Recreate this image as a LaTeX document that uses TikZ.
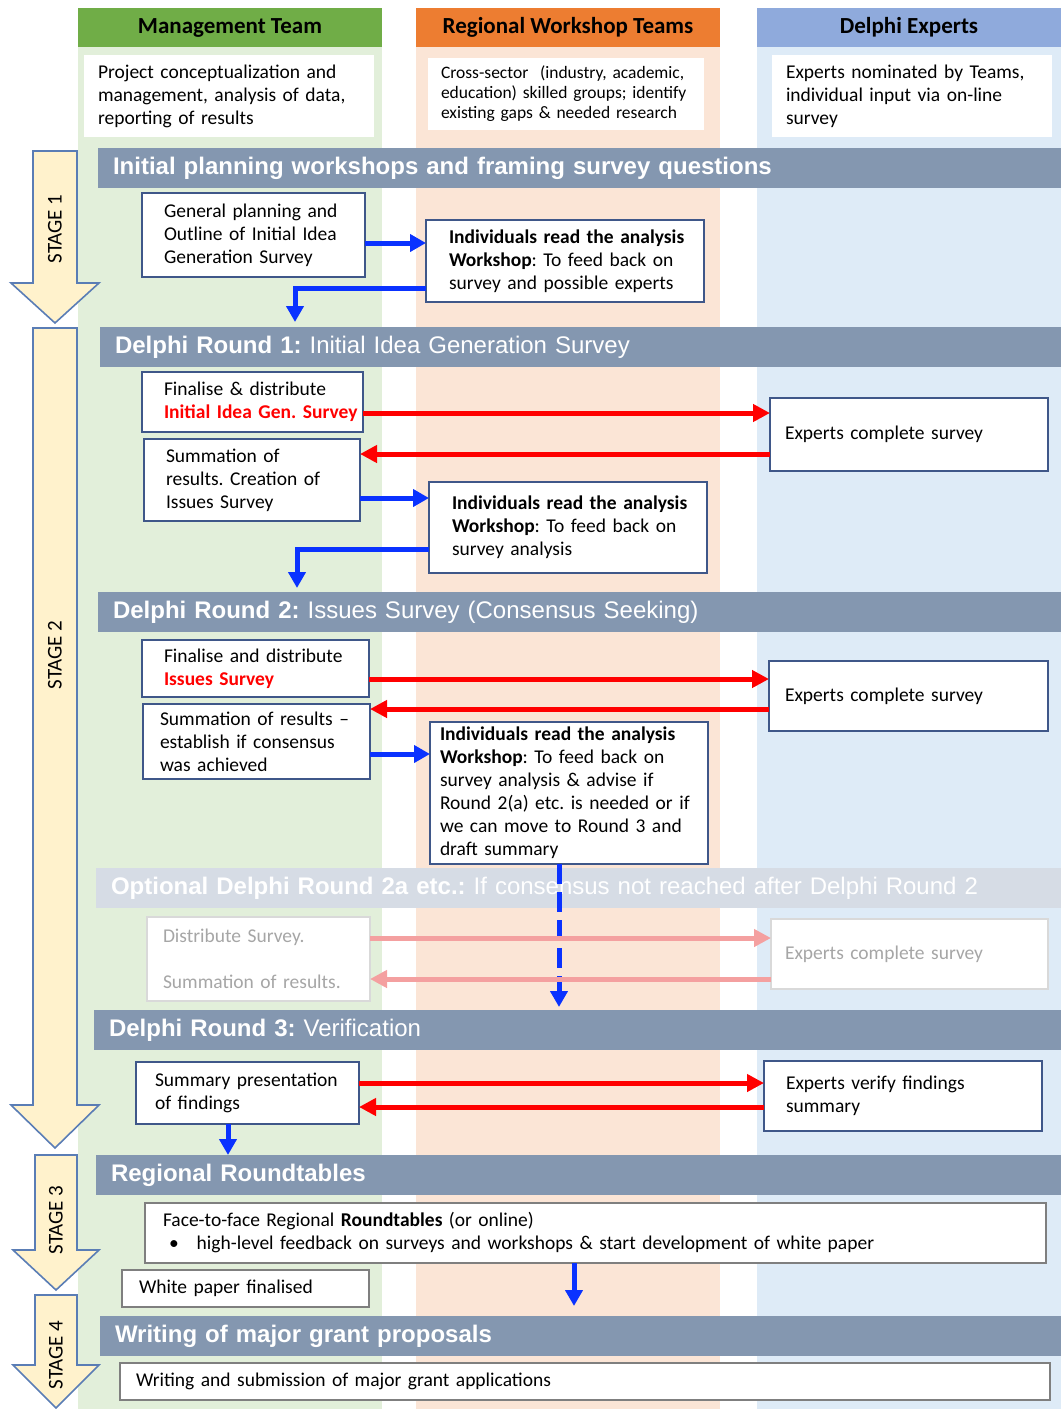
\documentclass[tikz,border=0pt]{standalone}
\usepackage{fontspec}
\setmainfont{Carlito}
\newfontfamily\barfont{Liberation Sans}
\usetikzlibrary{arrows.meta}
\frenchspacing

\definecolor{mgdark}{HTML}{70AD47}
\definecolor{mglight}{HTML}{E2EFDA}
\definecolor{wsdark}{HTML}{ED7D31}
\definecolor{wslight}{HTML}{FBE5D6}
\definecolor{exdark}{HTML}{8FAADC}
\definecolor{exlight}{HTML}{DEEBF7}
\definecolor{barcol}{HTML}{8497B0}
\definecolor{barfaint}{HTML}{D6DCE5}
\definecolor{boxline}{HTML}{3F5789}
\definecolor{stagefill}{HTML}{FFF2CC}
\definecolor{stageline}{HTML}{5A7DB5}
\definecolor{flowred}{HTML}{FF0000}
\definecolor{flowpink}{HTML}{F4A0A0}
\definecolor{flowblue}{HTML}{0A32FF}
\definecolor{faintline}{HTML}{D9D9D9}
\definecolor{fainttext}{HTML}{A6A6A6}
\definecolor{greyline}{HTML}{7F7F7F}

\newcommand{\boxfont}{\fontsize{19.5}{23}\selectfont}
\newcommand{\barsize}{\barfont\fontsize{24}{28}\selectfont}

\begin{document}
\begin{tikzpicture}[x=1pt, y=-1pt,
    head/.style={anchor=north west, outer sep=0pt, inner sep=0pt,
      minimum width=304pt, minimum height=39pt,
      font=\fontsize{23}{27}\selectfont\bfseries},
    box/.style={draw=boxline, line width=1.6pt, fill=white, anchor=north west,
      outer sep=0pt, inner sep=0pt, align=left, font=\boxfont},
    desc/.style={box, draw=none},
    lpad/.style={execute at begin node={\leftskip=#1pt\rightskip=-40pt plus 1fil\relax}},
    bar/.style={fill=barcol, anchor=north west, outer sep=0pt, inner sep=0pt,
      minimum height=40pt, align=left, text=white, font=\barsize, lpad=15},
    stagearrow/.style={fill=stagefill, draw=stageline, line width=1.6pt},
    stagetext/.style={rotate=90, font=\fontsize{21}{25}\selectfont},
    redflow/.style={draw=flowred, line width=5pt, -{Triangle[length=17pt,width=17pt]}},
    pinkflow/.style={redflow, draw=flowpink},
    blueflow/.style={draw=flowblue, line width=5pt, -{Triangle[length=16pt,width=17pt]}},
  ]
  \useasboundingbox (0,0) rectangle (1061,1409);

  % columns
  \fill[mglight] (78,47) rectangle (382,1409);
  \fill[wslight] (416,47) rectangle (720,1409);
  \fill[exlight] (757,47) rectangle (1061,1409);
  \node[head, fill=mgdark] (hm) at (78,8) {Management Team};
  \node[head, fill=wsdark] (hr) at (416,8) {Regional Workshop Teams};
  \node[head, fill=exdark] (hd) at (757,8) {Delphi Experts};
  \node[desc, text width=290pt, minimum height=82pt, lpad=14] (dm) at (84,55)
    {Project conceptualization and\\management, analysis of data,\\reporting of results};
  \node[desc, text width=276pt, minimum height=72pt, lpad=13,
    font=\fontsize{17.5}{20}\selectfont] (dr) at (428,58)
    {Cross-sector\ \ (industry, academic,\\education) skilled groups; identify\\existing gaps \& needed research};
  \node[desc, text width=280pt, minimum height=82pt, lpad=14] (dd) at (772,55)
    {Experts nominated by Teams,\\individual input via on-line\\survey};

  % stages
  \draw[stagearrow] (33,151) -- (77,151) -- (77,283) -- (99,283) -- (55,323)
    -- (11,283) -- (33,283) -- cycle;
  \draw[stagearrow] (33,328) -- (77,328) -- (77,1105) -- (99,1105) -- (55,1148)
    -- (11,1105) -- (33,1105) -- cycle;
  \draw[stagearrow] (35,1155) -- (77,1155) -- (77,1250) -- (99,1250) -- (56,1290)
    -- (13,1250) -- (35,1250) -- cycle;
  \draw[stagearrow] (35,1295) -- (77,1295) -- (77,1365) -- (99,1365) -- (56,1408)
    -- (13,1365) -- (35,1365) -- cycle;
  \node[stagetext] (s1) at (55,229) {STAGE 1};
  \node[stagetext] (s2) at (55,655) {STAGE 2};
  \node[stagetext] (s3) at (56,1220) {STAGE 3};
  \node[stagetext] (s4) at (56,1355) {STAGE 4};

  % bars
  \node[bar, text width=963pt] (b1) at (98,148)
    {\textbf{Initial planning workshops and framing survey questions}};
  \node[bar, text width=961pt] (b2) at (100,327)
    {\textbf{Delphi Round 1:} Initial Idea Generation Survey};
  \node[bar, text width=963pt] (b3) at (98,592)
    {\textbf{Delphi Round 2:} Issues Survey (Consensus Seeking)};
  \node[bar, fill=barfaint, text width=965pt] (b4) at (96,868)
    {\textbf{Optional Delphi Round 2a etc.:} If consensus not reached after Delphi Round 2};
  \node[bar, text width=967pt] (b5) at (94,1010)
    {\textbf{Delphi Round 3:} Verification};
  \node[bar, text width=965pt] (b6) at (96,1155)
    {\textbf{Regional Roundtables}};
  \node[bar, text width=961pt] (b7) at (100,1316)
    {\textbf{Writing of major grant proposals}};

  % boxes
  \node[box, text width=223pt, minimum height=84pt, lpad=22] (gp) at (142,193)
    {General planning and\\Outline of Initial Idea\\Generation Survey};
  \node[box, text width=278pt, minimum height=82pt, lpad=23] (ws1) at (426,220)
    {\textbf{Individuals read the analysis}\\\textbf{Workshop}: To feed back on\\survey and possible experts};
  \node[box, text width=221pt, minimum height=60pt, lpad=22] (fd1) at (142,372)
    {Finalise \& distribute\\\textcolor{flowred}{\textbf{Initial Idea Gen. Survey}}};
  \node[box, text width=278pt, minimum height=73pt, lpad=15] (ex1) at (770,398)
    {Experts complete survey};
  \node[box, text width=216pt, minimum height=82pt, lpad=22] (sum1) at (144,439)
    {Summation of\\results. Creation of\\Issues Survey};
  \node[box, text width=278pt, minimum height=91pt, lpad=23] (ws2) at (429,482)
    {\textbf{Individuals read the analysis}\\\textbf{Workshop}: To feed back on\\survey analysis};
  \node[box, text width=227pt, minimum height=57pt, lpad=22] (fd2) at (142,640)
    {Finalise and distribute\\\textcolor{flowred}{\textbf{Issues Survey}}};
  \node[box, text width=279pt, minimum height=70pt, lpad=16] (ex2) at (769,661)
    {Experts complete survey};
  \node[box, text width=227pt, minimum height=75pt, lpad=17] (sum2) at (143,704)
    {Summation of results --\\establish if consensus\\was achieved};
  \node[box, text width=278pt, minimum height=142pt, lpad=10] (ws3) at (430,722)
    {\textbf{Individuals read the analysis}\\\textbf{Workshop}: To feed back on\\survey analysis \& advise if\\Round 2(a) etc. is needed or if\\we can move to Round 3 and\\draft summary};
  \node[box, draw=faintline, text=fainttext, text width=223pt, minimum height=84pt, lpad=16] (opt) at (147,917)
    {Distribute Survey.\\[23pt]Summation of results.};
  \node[box, draw=faintline, text=fainttext, text width=277pt, minimum height=70pt, lpad=14] (exo) at (771,919)
    {Experts complete survey};
  \node[box, text width=223pt, minimum height=62pt, lpad=19] (sp) at (136,1062)
    {Summary presentation\\of findings};
  \node[box, text width=278pt, minimum height=70pt, lpad=22] (ev) at (764,1061)
    {Experts verify findings\\summary};
  \node[box, draw=greyline, line width=1.2pt, text width=901pt, minimum height=60pt, lpad=18] (rt) at (145,1203)
    {Face-to-face Regional \textbf{Roundtables} (or online)\\\hspace*{6pt}\textbullet\hspace{18pt}high-level feedback on surveys and workshops \& start development of white paper};
  \node[box, draw=greyline, line width=1.2pt, text width=247pt, minimum height=37pt, lpad=17] (wp) at (122,1270)
    {White paper finalised};
  \node[box, draw=greyline, line width=1.2pt, text width=930pt, minimum height=37pt, lpad=16] (wr) at (120,1363)
    {Writing and submission of major grant applications};

  \coordinate (k1) at (295,322);
  \coordinate (k2) at (297,588);
  \coordinate (k3) at (559,1007);
  \coordinate (k4) at (574,1306);

  % flows
  \draw[blueflow] ([yshift=-8pt]gp.east) -- ([yshift=-8pt]gp.east -| ws1.west);
  \draw[blueflow] ([yshift=-27pt]ws1.west) -| (k1);
  \draw[redflow] ([yshift=-11pt]fd1.east) -- ([yshift=-11pt]fd1.east -| ex1.west);
  \draw[redflow] ([yshift=-19.5pt]ex1.west) -- ([yshift=-19.5pt]ex1.west -| sum1.east);
  \draw[blueflow] ([yshift=-18pt]sum1.east) -- ([yshift=-18pt]sum1.east -| ws2.west);
  \draw[blueflow] ([yshift=-21.5pt]ws2.west) -| (k2);
  \draw[redflow] ([yshift=-10.5pt]fd2.east) -- ([yshift=-10.5pt]fd2.east -| ex2.west);
  \draw[redflow] ([yshift=-13pt]ex2.west) -- ([yshift=-13pt]ex2.west -| sum2.east);
  \draw[blueflow] ([yshift=-12.5pt]sum2.east) -- ([yshift=-12.5pt]sum2.east -| ws3.west);
  \draw[blueflow, dash pattern=on 20pt off 8pt] ([xshift=-10pt]ws3.south) -- (k3);
  \draw[pinkflow] ([yshift=21pt]opt.east) -- ([yshift=21pt]opt.east -| exo.west);
  \draw[pinkflow] ([yshift=-20pt]opt.east -| exo.west) -- ([yshift=-20pt]opt.east);
  \draw[redflow] ([yshift=10pt]sp.east) -- ([yshift=10pt]sp.east -| ev.west);
  \draw[redflow] ([yshift=-14pt]sp.east -| ev.west) -- ([yshift=-14pt]sp.east);
  \draw[blueflow] ([xshift=-19.5pt]sp.south) -- ([xshift=-19.5pt]sp.south |- b6.north);
  \draw[blueflow] ([xshift=-21.5pt]rt.south) -- (k4);
\end{tikzpicture}
\end{document}
